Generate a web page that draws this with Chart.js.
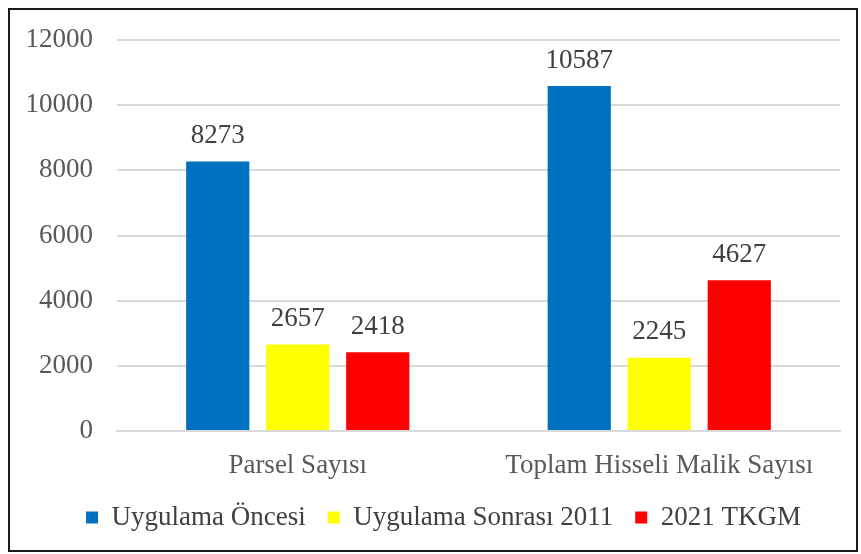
<!DOCTYPE html>
<html>
<head>
<meta charset="utf-8">
<script src="https://cdn.jsdelivr.net/npm/chart.js@4.4.1/dist/chart.umd.min.js"></script>
<style>
    html, body { margin: 0; padding: 0; background: #fff; }
    #wrap {
        position: absolute; left: 8px; top: 8px;
        width: 846px; height: 540px;
        border: 2px solid #1a1a1a;
    }
    #chart { display: block; }
</style>
</head>
<body>
<div id="wrap"><canvas id="chart" width="846" height="540"></canvas></div>
<script>
// ==============================================================================
// DATA
// ==============================================================================
const categories = ['Parsel Sayısı', 'Toplam Hisseli Malik Sayısı'];
const seriesNames = ['Uygulama Öncesi', 'Uygulama Sonrası 2011', '2021 TKGM'];
const oncesiValues = [8273, 10587];
const sonrasiValues = [2657, 2245];
const tkgmValues = [2418, 4627];
const yTicks = [0, 2000, 4000, 6000, 8000, 10000, 12000];

const seriesColors = ['#0070C0', '#FFFF00', '#FF0000'];
const FONT = "'Liberation Serif', 'Times New Roman', serif";
const FONT_SIZE = 27;

// Value labels above each bar (no datalabels plugin available offline)
const barValueLabels = {
    id: 'barValueLabels',
    afterDatasetsDraw(chart) {
        const ctx = chart.ctx;
        ctx.save();
        ctx.font = FONT_SIZE + 'px ' + FONT;
        ctx.fillStyle = '#404040';
        ctx.textAlign = 'center';
        ctx.textBaseline = 'bottom';
        chart.data.datasets.forEach((ds, i) => {
            chart.getDatasetMeta(i).data.forEach((bar, j) => {
                ctx.fillText(ds.data[j], bar.x, bar.y - 12);
            });
        });
        ctx.restore();
    }
};

// Legend sits a bit right of the canvas centre in the original
const legendNudge = {
    id: 'legendNudge',
    afterLayout(chart) {
        if (chart.legend) {
            chart.legend.left += 11;
            chart.legend.right += 11;
        }
    }
};

const ctx = document.getElementById('chart').getContext('2d');
new Chart(ctx, {
    type: 'bar',
    data: {
        labels: categories,
        datasets: [
            { label: seriesNames[0], data: oncesiValues, backgroundColor: seriesColors[0] },
            { label: seriesNames[1], data: sonrasiValues, backgroundColor: seriesColors[1] },
            { label: seriesNames[2], data: tkgmValues, backgroundColor: seriesColors[2] }
        ]
    },
    options: {
        responsive: false,
        animation: false,
        devicePixelRatio: 1,
        categoryPercentage: 0.664,
        barPercentage: 0.79,
        layout: { padding: { left: 15, right: 16, top: 30, bottom: 9 } },
        plugins: {
            tooltip: { enabled: false },
            legend: {
                position: 'bottom',
                labels: {
                    font: { family: FONT, size: FONT_SIZE },
                    color: '#404040',
                    boxWidth: 12,
                    boxHeight: 12,
                    padding: 22
                }
            }
        },
        scales: {
            x: {
                grid: { display: false, drawTicks: false },
                border: { display: true, color: '#D9D9D9', width: 2 },
                ticks: { font: { family: FONT, size: FONT_SIZE }, color: '#595959', padding: 19 },
                afterFit(axis) { axis.height = 51; }
            },
            y: {
                min: 0,
                max: 12000,
                afterBuildTicks(axis) { axis.ticks = yTicks.map(v => ({ value: v })); },
                grid: { color: '#D9D9D9', lineWidth: 2, drawTicks: false },
                border: { display: false },
                ticks: {
                    font: { family: FONT, size: FONT_SIZE },
                    color: '#595959',
                    padding: 24,
                    callback: v => String(v)
                },
                afterFit(axis) {
                    axis.width = 92;
                    axis.paddingTop = 0;
                    axis.paddingBottom = 0;
                }
            }
        }
    },
    plugins: [barValueLabels, legendNudge]
});
</script>
</body>
</html>
